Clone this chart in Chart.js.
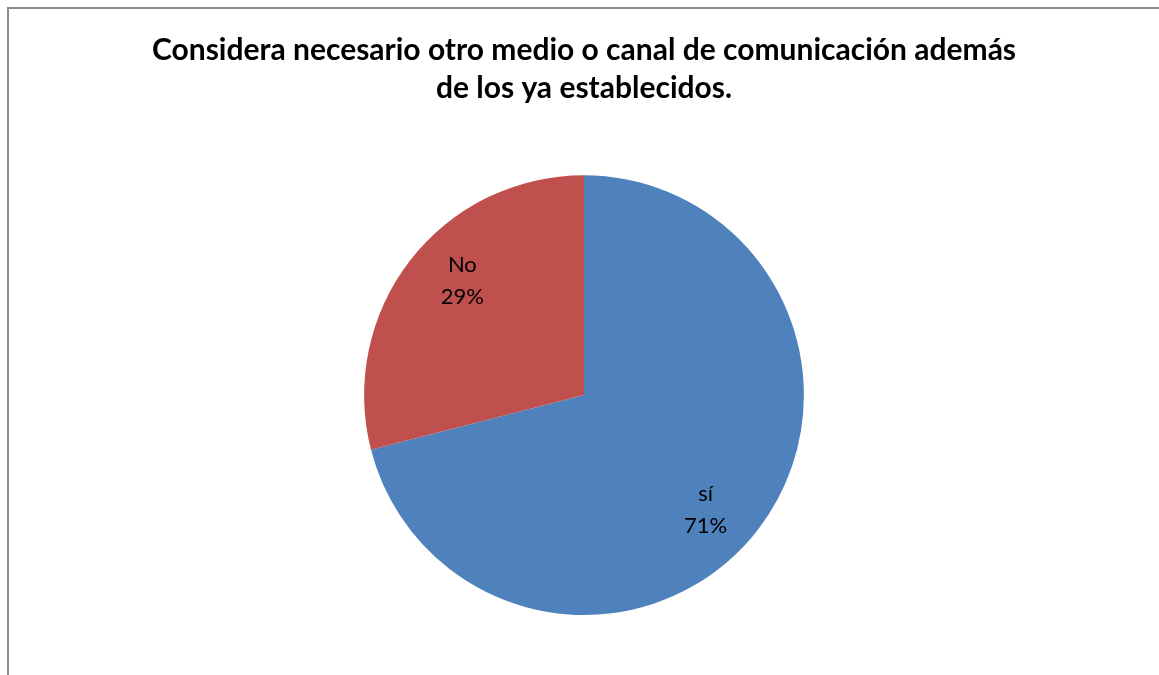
<!DOCTYPE html>
<html>
<head>
<meta charset="utf-8">
<script src="https://cdn.jsdelivr.net/npm/chart.js@4.4.0/dist/chart.umd.min.js"></script>
<style>
  html, body { margin: 0; padding: 0; background: #fff; overflow: hidden; }
  #frame { position: absolute; left: 7px; top: 7px; width: 2000px; height: 2000px; border: 2px solid #8c8c8c; box-sizing: border-box; }
  #wrap { position: absolute; left: 0; top: 0; width: 1159px; height: 675px; }
</style>
</head>
<body>
<div id="frame"></div>
<div id="wrap"><canvas id="c" width="1159" height="675"></canvas></div>
<script>
const titleLines = ["Considera necesario otro medio o canal de comunicación además", "de los ya establecidos."];
const categories = ["sí", "No"];
const percentages = [71, 29];
const colors = ["#4F81BD", "#C0504D"];

const labelStyle = { radiusFactor: 0.76, angleShiftDeg: 5.5, lineGap: 16 };

const labelPlugin = {
  id: 'sliceLabels',
  afterDatasetsDraw(chart) {
    const ctx = chart.ctx;
    const meta = chart.getDatasetMeta(0);
    ctx.save();
    ctx.fillStyle = '#000';
    ctx.font = '22px Lato, "Open Sans", sans-serif';
    ctx.textAlign = 'center';
    ctx.textBaseline = 'middle';
    meta.data.forEach((arc, i) => {
      const p = arc.getProps(['x', 'y', 'startAngle', 'endAngle', 'outerRadius'], true);
      const mid = (p.startAngle + p.endAngle) / 2 + labelStyle.angleShiftDeg * Math.PI / 180;
      const r = p.outerRadius * labelStyle.radiusFactor;
      const cx = p.x + Math.cos(mid) * r;
      const cy = p.y + Math.sin(mid) * r;
      ctx.fillText(categories[i], cx, cy - labelStyle.lineGap);
      ctx.fillText(percentages[i] + '%', cx, cy + labelStyle.lineGap);
    });
    ctx.restore();
  }
};

new Chart(document.getElementById('c'), {
  type: 'pie',
  data: {
    labels: categories,
    datasets: [{
      data: percentages,
      backgroundColor: colors,
      borderWidth: 0,
      hoverOffset: 0
    }]
  },
  options: {
    responsive: false,
    animation: false,
    layout: { padding: { left: 9, right: 0, top: 0, bottom: 60 } },
    plugins: {
      legend: { display: false },
      tooltip: { enabled: false },
      title: {
        display: true,
        text: titleLines,
        color: '#000',
        font: { family: 'Lato, "Open Sans", sans-serif', size: 30, weight: 'bold', lineHeight: 1.27 },
        padding: { top: 31, bottom: 68 }
      }
    }
  },
  plugins: [labelPlugin]
});
</script>
</body>
</html>
